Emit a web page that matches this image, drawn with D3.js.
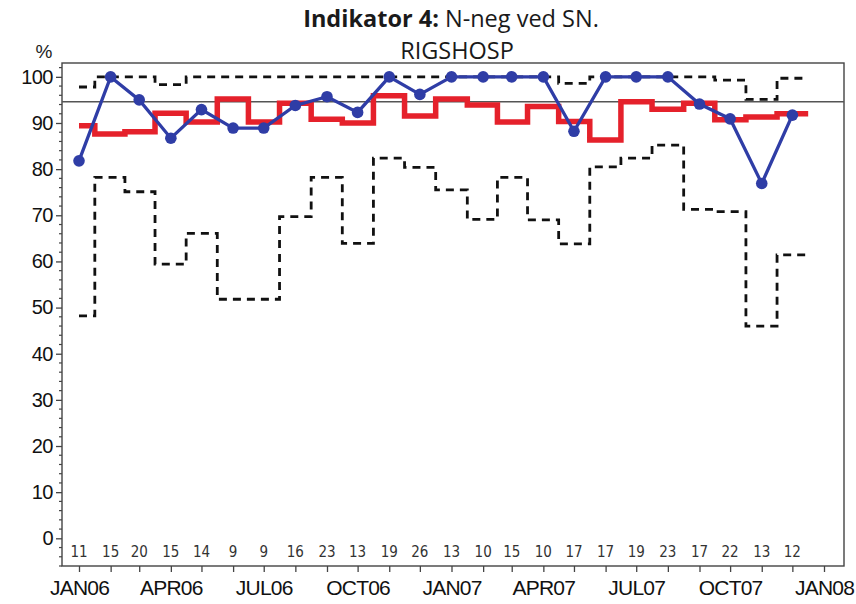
<!DOCTYPE html>
<html>
<head>
<meta charset="utf-8">
<script src="https://cdn.jsdelivr.net/npm/d3@7"></script>
<style>
  body { margin: 0; background: #fff; }
  svg { display: block; }
</style>
</head>
<body>
<script>
// months (first of month), one value per month
const months = ["2006-01","2006-02","2006-03","2006-04","2006-05","2006-06",
                "2006-07","2006-08","2006-09","2006-10","2006-11","2006-12",
                "2007-01","2007-02","2007-03","2007-04","2007-05","2007-06",
                "2007-07","2007-08","2007-09","2007-10","2007-11","2007-12"];

// andel i procent (blå)
const pct = [81.8, 100, 95.0, 86.7, 92.9, 88.9, 88.9, 93.8, 95.7, 92.3, 100, 96.2,
             100, 100, 100, 100, 88.2, 100, 100, 100, 94.1, 90.9, 76.9, 91.7];
// landsgennemsnit (rød trappe)
const national = [89.4, 87.6, 88.1, 92.1, 90.2, 95.2, 90.2, 94.3, 90.8, 90.0, 95.9, 91.5,
                  95.2, 93.9, 90.2, 93.6, 90.3, 86.3, 94.6, 93.0, 94.3, 90.7, 91.3, 92.0];
// konfidensgrænser (stiplet)
const upper = [97.8, 100, 100, 98.3, 100, 100, 100, 100, 100, 100, 100, 100,
               100, 100, 100, 100, 98.6, 100, 100, 100, 100, 99.3, 95.1, 99.7];
const lower = [48.2, 78.2, 75.1, 59.4, 66.1, 51.8, 51.8, 69.7, 78.2, 63.9, 82.4, 80.4,
               75.5, 69.1, 78.2, 69.0, 63.8, 80.5, 82.4, 85.2, 71.3, 70.8, 46.0, 61.4];
// antal patienter pr. måned
const counts = [11, 15, 20, 15, 14, 9, 9, 16, 23, 13, 19, 26,
                13, 10, 15, 10, 17, 17, 19, 23, 17, 22, 13, 12];

const target = 94.6;
const yTicks = [0, 10, 20, 30, 40, 50, 60, 70, 80, 90, 100];
const xLabels = ["JAN06","APR06","JUL06","OCT06","JAN07","APR07","JUL07","OCT07","JAN08"];

const W = 856, H = 604;
const box = { left: 62, right: 844, top: 63, bottom: 566 };

const parse = d3.timeParse("%Y-%m");
const dates = months.map(parse);

const x = d3.scaleTime()
  .domain([new Date(2006, 0, 1), new Date(2008, 0, 1)])
  .range([79, 824]);

const y = d3.scaleLinear()
  .domain([-6, 103])
  .range([box.bottom, box.top]);

const svg = d3.select("body").append("svg")
  .attr("width", W)
  .attr("height", H)
  .style("font-family", "'Liberation Sans', Arial, sans-serif");

svg.append("rect").attr("width", W).attr("height", H).attr("fill", "#fff");

// titel
const title = svg.append("text")
  .attr("x", 451).attr("y", 27)
  .attr("text-anchor", "middle")
  .style("font-family", "'Open Sans', 'Noto Sans', sans-serif")
  .style("font-size", "23.5px")
  .attr("fill", "#1a1a1a");
title.append("tspan").attr("font-weight", "bold").text("Indikator 4:");
title.append("tspan").text(" N-neg ved SN.");

svg.append("text")
  .attr("x", 457).attr("y", 59)
  .attr("text-anchor", "middle")
  .style("font-family", "'Open Sans', 'Noto Sans', sans-serif")
  .style("font-size", "23.5px")
  .attr("fill", "#1a1a1a")
  .text("RIGSHOSP");

svg.append("text")
  .attr("x", 44).attr("y", 58)
  .attr("text-anchor", "middle")
  .style("font-size", "19px")
  .attr("fill", "#222")
  .text("%");

// y-akse
const yAxis = svg.append("g")
  .attr("transform", "translate(" + box.left + ",0)")
  .call(d3.axisLeft(y).tickValues(yTicks).tickSize(6).tickSizeOuter(0).tickPadding(3));
yAxis.select(".domain").remove();
yAxis.selectAll("text").style("font-size", "20px").attr("fill", "#111").attr("letter-spacing", "-0.5px");
yAxis.selectAll("line").attr("stroke", "#444").attr("stroke-width", 1.3);

svg.append("g")
  .attr("transform", "translate(" + box.left + ",0)")
  .selectAll("line")
  .data(d3.range(-6, 103, 2).filter(v => v % 10 !== 0))
  .enter().append("line")
  .attr("x1", -3).attr("x2", 0)
  .attr("y1", d => y(d)).attr("y2", d => y(d))
  .attr("stroke", "#444").attr("stroke-width", 1.2);

// x-akse
const tickDates = d3.timeMonth.range(new Date(2006, 0, 1), new Date(2008, 0, 2));
const xAxis = svg.append("g")
  .attr("transform", "translate(0," + box.bottom + ")")
  .call(d3.axisBottom(x).tickValues(tickDates).tickSize(6).tickSizeOuter(0).tickPadding(8)
    .tickFormat((d, i) => i % 3 === 0 ? xLabels[i / 3] : ""));
xAxis.select(".domain").remove();
xAxis.selectAll("text").style("font-size", "21px").attr("fill", "#111").attr("letter-spacing", "-0.8px");
xAxis.selectAll("line").attr("stroke", "#444").attr("stroke-width", 1.3);

// ramme
svg.append("rect")
  .attr("x", box.left).attr("y", box.top)
  .attr("width", box.right - box.left).attr("height", box.bottom - box.top)
  .attr("fill", "none").attr("stroke", "#444").attr("stroke-width", 1.4);

// trappe: første trin starter i første punkt, sidste slutter en halv måned efter sidste punkt
function stepPoints(values) {
  const pts = values.map((v, i) => {
    const t = i === 0 ? +dates[0] : (+dates[i - 1] + +dates[i]) / 2;
    return [t, v];
  });
  const last = dates[dates.length - 1];
  const next = d3.timeMonth.offset(last, 1);
  pts.push([(+last + +next) / 2, values[values.length - 1]]);
  return pts;
}

const stepLine = d3.line()
  .x(d => x(new Date(d[0])))
  .y(d => y(d[1]))
  .curve(d3.curveStepAfter);

[upper, lower].forEach(arr => {
  svg.append("path")
    .datum(stepPoints(arr))
    .attr("d", stepLine)
    .attr("fill", "none")
    .attr("stroke", "#111")
    .attr("stroke-width", 2.8)
    .attr("stroke-dasharray", "8,6");
});

// reference-linje
svg.append("line")
  .attr("x1", box.left).attr("x2", box.right)
  .attr("y1", y(target)).attr("y2", y(target))
  .attr("stroke", "#555").attr("stroke-width", 1.3);

svg.append("path")
  .datum(stepPoints(national))
  .attr("d", stepLine)
  .attr("fill", "none")
  .attr("stroke", "#e5212b")
  .attr("stroke-width", 5.5);

// afdelingens andel
const line = d3.line()
  .x((d, i) => x(dates[i]))
  .y(d => y(d));

svg.append("path")
  .datum(pct)
  .attr("d", line)
  .attr("fill", "none")
  .attr("stroke", "#2f3da6")
  .attr("stroke-width", 3.3);

svg.append("g").selectAll("circle")
  .data(pct)
  .enter().append("circle")
  .attr("cx", (d, i) => x(dates[i]))
  .attr("cy", d => y(d))
  .attr("r", 5.8)
  .attr("fill", "#2f3da6");

// antal
svg.append("g").selectAll("text")
  .data(counts)
  .enter().append("text")
  .attr("x", (d, i) => x(dates[i]))
  .attr("y", 557)
  .attr("text-anchor", "middle")
  .style("font-family", "'Liberation Sans Narrow', 'Arial Narrow', 'DejaVu Sans Condensed', sans-serif")
  .style("font-size", "15px")
  .attr("fill", "#333")
  .text(d => d);
</script>
</body>
</html>
